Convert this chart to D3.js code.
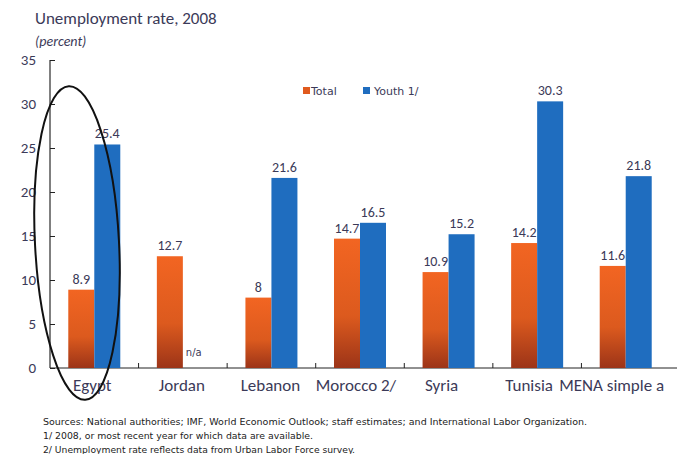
<!DOCTYPE html>
<meta charset="utf-8">
<style>
body { margin: 0; background: #fff; }
</style>
<svg id="chart" width="681" height="454"></svg>
<script src="https://d3js.org/d3.v7.min.js"></script>
<script>

var countries = ["Egypt", "Jordan", "Lebanon", "Morocco 2/", "Syria", "Tunisia", "MENA simple a"];
var totalRate = [8.9, 12.7, 8, 14.7, 10.9, 14.2, 11.6];
var youthRate = [25.4, null, 21.6, 16.5, 15.2, 30.3, 21.8];
var yTicks = [0, 5, 10, 15, 20, 25, 30, 35];
var notes = [
  "Sources: National authorities; IMF, World Economic Outlook; staff estimates; and International Labor Organization.",
  "1/ 2008, or most recent year for which data are available.",
  "2/ Unemployment rate reflects data from Urban Labor Force survey."
];
var noteWidths = [544, 270, 312];

var svg = d3.select("#chart");
var textCol = "#3b3a58";
var mainFont = "Carlito, Lato, sans-serif";
var smallFont = "'DejaVu Sans', Verdana, sans-serif";

var x = d3.scaleBand().domain(countries).range([50, 670]);
var y = d3.scaleLinear().domain([0, 35]).range([368, 60]);
var barW = 26;
// labels in the original drift a little left of their bands
var labelShift = [-2, -1, -1, -4, -7, -8, -14];

// gradient for the orange bars
var defs = svg.append("defs");
var grad = defs.append("linearGradient").attr("id", "orangeGrad")
  .attr("x1", 0).attr("y1", 0).attr("x2", 0).attr("y2", 1);
grad.append("stop").attr("offset", "0%").attr("stop-color", "#f26522");
grad.append("stop").attr("offset", "60%").attr("stop-color", "#dc5a1e");
grad.append("stop").attr("offset", "100%").attr("stop-color", "#9c3418");

// title
svg.append("text").attr("x", 35).attr("y", 24)
  .style("font-family", mainFont).style("font-size", "17px").style("fill", textCol)
  .text("Unemployment rate, 2008");
svg.append("text").attr("x", 35).attr("y", 46)
  .style("font-family", mainFont).style("font-size", "14px").style("font-style", "italic").style("fill", textCol)
  .text("(percent)");

// y axis
var yAxis = svg.append("g").attr("transform", "translate(50,0)")
  .call(d3.axisRight(y).tickValues(yTicks).tickSize(5).tickFormat(""));
yAxis.select(".domain").attr("d", "M0," + y(35) + "V" + y(0));
yAxis.selectAll("line").attr("stroke", "#222");
svg.selectAll(".ylab").data(yTicks).enter().append("text")
  .attr("x", 36).attr("y", function(d) { return y(d) + 5; })
  .attr("text-anchor", "end")
  .style("font-family", mainFont).style("font-size", "15px").style("fill", textCol)
  .text(function(d) { return d; });

// x axis
var xAxis = svg.append("g").attr("transform", "translate(0," + y(0) + ")");
xAxis.append("line").attr("x1", 50).attr("x2", 677).attr("stroke", "#222");
xAxis.selectAll(".xt").data(countries.slice(1)).enter().append("line")
  .attr("x1", function(d) { return x(d); }).attr("x2", function(d) { return x(d); })
  .attr("y1", 0).attr("y2", -5).attr("stroke", "#222");

// bars
countries.forEach(function(c, i) {
  var cx = x(c) + x.bandwidth() / 2;
  svg.append("rect")
    .attr("x", cx - barW).attr("y", y(totalRate[i]))
    .attr("width", barW).attr("height", y(0) - y(totalRate[i]))
    .attr("fill", "url(#orangeGrad)");
  svg.append("text").attr("x", cx - barW / 2).attr("y", y(totalRate[i]) - 6)
    .attr("text-anchor", "middle")
    .style("font-family", mainFont).style("font-size", "14px").style("fill", textCol)
    .text(totalRate[i]);
  if (youthRate[i] != null) {
    svg.append("rect")
      .attr("x", cx).attr("y", y(youthRate[i]))
      .attr("width", barW).attr("height", y(0) - y(youthRate[i]))
      .attr("fill", "#1f6dbf");
    svg.append("text").attr("x", cx + barW / 2).attr("y", y(youthRate[i]) - 6)
      .attr("text-anchor", "middle")
      .style("font-family", mainFont).style("font-size", "14px").style("fill", textCol)
      .text(youthRate[i]);
  } else {
    svg.append("text").attr("x", cx + 3).attr("y", y(0) - 12)
      .style("font-family", smallFont).style("font-size", "10px").style("fill", textCol)
      .text("n/a");
  }
  svg.append("text").attr("x", cx + labelShift[i]).attr("y", 391)
    .attr("text-anchor", "middle")
    .style("font-family", mainFont).style("font-size", "17px").style("fill", textCol)
    .text(c);
});

// legend
var legend = svg.append("g").attr("transform", "translate(303,86)");
legend.append("rect").attr("y", 1).attr("width", 7).attr("height", 7).attr("fill", "#e05a1e");
legend.append("text").attr("x", 8).attr("y", 8.5)
  .style("font-family", smallFont).style("font-size", "11px").style("fill", textCol).text("Total");
legend.append("rect").attr("x", 60).attr("y", 1).attr("width", 7).attr("height", 7).attr("fill", "#1f6dbf");
legend.append("text").attr("x", 71).attr("y", 8.5)
  .style("font-family", smallFont).style("font-size", "11px").style("fill", textCol).text("Youth 1/");

// ellipse around Egypt
svg.append("ellipse").attr("cx", 77).attr("cy", 243).attr("rx", 42).attr("ry", 157)
  .attr("transform", "rotate(-3 77 243)")
  .attr("fill", "none").attr("stroke", "#111").attr("stroke-width", 2);

// footnotes
svg.selectAll(".note").data(notes).enter().append("text")
  .attr("x", 43).attr("y", function(d, i) { return 425 + i * 14; })
  .attr("textLength", function(d, i) { return noteWidths[i]; })
  .attr("lengthAdjust", "spacingAndGlyphs")
  .style("font-family", smallFont).style("font-size", "8px").style("fill", "#222")
  .text(function(d) { return d; });

</script>
